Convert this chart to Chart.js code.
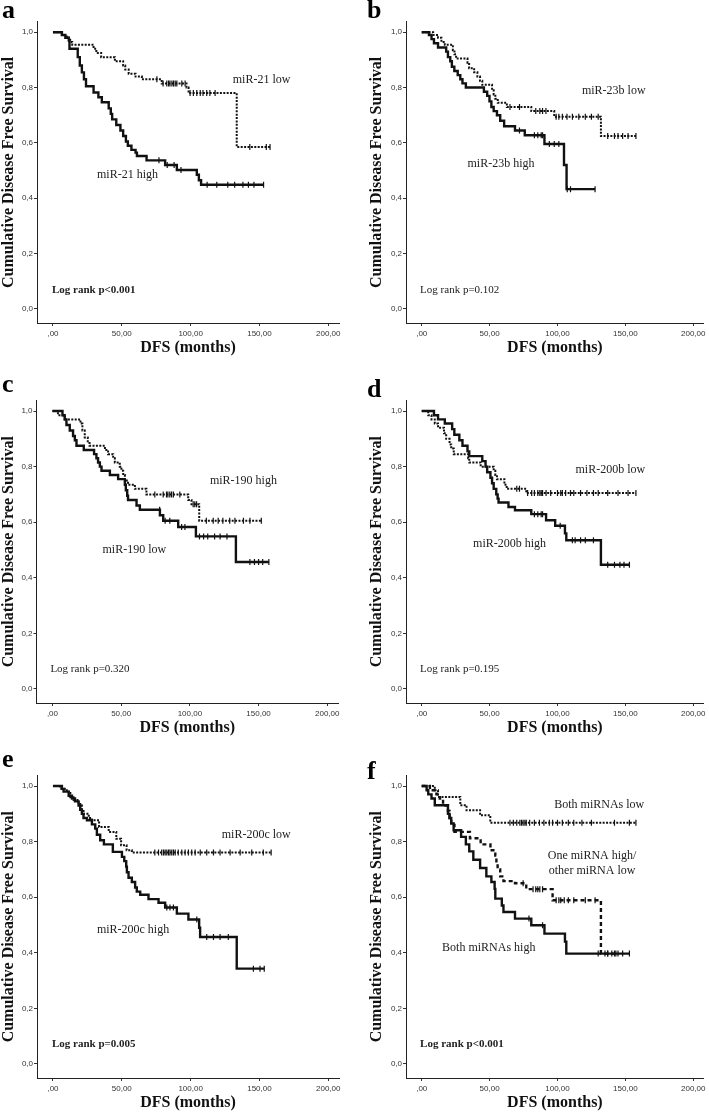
<!DOCTYPE html>
<html>
<head>
<meta charset="utf-8">
<script src="https://cdn.jsdelivr.net/npm/chart.js@4.4.1/dist/chart.umd.min.js"></script>
<style>
  body { margin: 0; background: #fff; }
  #fig { position: relative; width: 709px; height: 1120px; background: #fff; }
  #fig canvas { position: absolute; }
</style>
</head>
<body>
<div id="fig">
  <canvas id="pa" width="354" height="370" style="left:0;top:0"></canvas>
  <canvas id="pb" width="355" height="370" style="left:354px;top:0"></canvas>
  <canvas id="pc" width="354" height="375" style="left:0;top:370px"></canvas>
  <canvas id="pd" width="355" height="375" style="left:354px;top:370px"></canvas>
  <canvas id="pe" width="354" height="375" style="left:0;top:745px"></canvas>
  <canvas id="pf" width="355" height="375" style="left:354px;top:745px"></canvas>
</div>
<script>
// axis ticks
const xTicks = [0, 50, 100, 150, 200];
const xTickLabels = [',00', '50,00', '100,00', '150,00', '200,00'];
const yTicks = [0, 0.2, 0.4, 0.6, 0.8, 1.0];
const yTickLabels = ['0,0', '0,2', '0,4', '0,6', '0,8', '1,0'];

// a: miR-21
const aHighTime = [6.5, 9, 11.5, 12, 18, 19.5, 21, 22.5, 24, 29.5, 33, 35.5, 40.5, 42, 43, 46, 49, 51, 53, 54.4, 57, 60, 61, 68, 81.5, 90, 104.5, 106, 107.6];
const aHighSurv = [0.99, 0.98, 0.97, 0.94, 0.91, 0.88, 0.855, 0.83, 0.805, 0.782, 0.765, 0.747, 0.725, 0.705, 0.685, 0.665, 0.645, 0.625, 0.605, 0.59, 0.575, 0.565, 0.553, 0.537, 0.52, 0.502, 0.485, 0.465, 0.449];
const aHighCens = [77, 83, 88, 93, 112, 119, 127, 132, 138, 142, 146, 153];
const aLowTime = [6.5, 10, 12.5, 14, 29.5, 31.5, 35, 45, 51, 52.5, 55, 60, 64.6, 79, 97, 98.5, 133.5];
const aLowSurv = [0.99, 0.98, 0.965, 0.955, 0.94, 0.925, 0.91, 0.895, 0.88, 0.865, 0.85, 0.84, 0.83, 0.815, 0.80, 0.78, 0.585];
const aLowCens = [75.5, 80, 82.7, 84, 85, 86.4, 87.6, 88.8, 90, 93.6, 96, 99.6, 102, 104.5, 107, 109, 111.7, 114, 117.8, 143, 155, 157.7];

// b: miR-23b
const bHighTime = [5.3, 7.2, 9, 12, 18, 19.3, 21, 22.2, 24, 26.5, 28.4, 30, 32.5, 45.8, 48.2, 49.9, 51.3, 53, 55.4, 57.8, 60.7, 68.7, 75.9, 90.4, 104.8, 106.7];
const bHighSurv = [0.99, 0.975, 0.96, 0.945, 0.93, 0.91, 0.895, 0.875, 0.86, 0.845, 0.83, 0.815, 0.80, 0.785, 0.77, 0.75, 0.73, 0.715, 0.70, 0.68, 0.66, 0.645, 0.628, 0.596, 0.52, 0.433];
const bHighCens = [72, 83, 85.5, 88, 89, 94, 97.6, 101, 107.2, 109.6, 127.7];
const bLowTime = [8.4, 12, 14.5, 17, 22.9, 24.1, 25.3, 33.7, 34.9, 38.6, 41, 42.9, 44.6, 51.8, 53, 54.2, 56, 62.7, 80.7, 97.6, 132];
const bLowSurv = [0.99, 0.98, 0.965, 0.955, 0.935, 0.92, 0.905, 0.89, 0.87, 0.855, 0.84, 0.825, 0.81, 0.79, 0.775, 0.76, 0.745, 0.73, 0.715, 0.695, 0.625];
const bLowCens = [65, 72, 84, 87, 89, 91.5, 99, 101, 103.6, 107, 111, 115.7, 120.5, 125, 130, 137, 142, 144.6, 148, 152, 157.8];

// c: miR-190
const cLowTime = [7.3, 8.9, 10.2, 12.6, 15, 16.3, 17.5, 22.8, 30.3, 32, 33.2, 34.5, 35.7, 41.8, 47.8, 52.7, 53.4, 54.4, 55, 61.2, 63.6, 78.2, 80.6, 91.5, 104.4, 133.5];
const cLowSurv = [0.985, 0.97, 0.95, 0.93, 0.91, 0.895, 0.875, 0.86, 0.845, 0.83, 0.815, 0.80, 0.785, 0.77, 0.755, 0.735, 0.715, 0.695, 0.68, 0.66, 0.645, 0.625, 0.605, 0.583, 0.549, 0.457];
const cLowCens = [78, 82, 85.4, 94, 96.4, 107, 110, 113, 118, 122, 127, 143.7, 147, 150, 153, 157.5];
const cHighTime = [4, 9, 20.4, 21.8, 23.5, 25.7, 27, 38.2, 40.5, 44.2, 45.4, 49, 50.2, 51.5, 52.7, 55, 60, 68.4, 98.8, 101.2, 106.8];
const cHighSurv = [0.985, 0.97, 0.955, 0.93, 0.905, 0.885, 0.875, 0.86, 0.845, 0.83, 0.815, 0.80, 0.785, 0.77, 0.75, 0.735, 0.72, 0.70, 0.68, 0.665, 0.605];
const cHighCens = [74.5, 80.6, 83, 84, 85.4, 86.7, 88, 92.7, 102.4, 103.6, 104.9, 112, 117, 120.6, 124, 129, 132.8, 139, 143.7, 152];

// d: miR-200b
const dHighTime = [9, 12, 17, 22.4, 24, 27.7, 30, 33.7, 35, 44.6, 47, 48.2, 50.6, 51.8, 53, 54.9, 55.9, 56.6, 63.9, 68.7, 80.7, 91.6, 98.3, 105.5, 106.5, 132];
const dHighSurv = [0.985, 0.97, 0.955, 0.935, 0.915, 0.895, 0.875, 0.855, 0.838, 0.82, 0.80, 0.78, 0.76, 0.74, 0.72, 0.70, 0.685, 0.671, 0.655, 0.643, 0.629, 0.607, 0.587, 0.56, 0.535, 0.447];
const dHighCens = [83, 85.5, 88, 89, 102, 111, 113, 117, 120.5, 126.5, 137, 142, 146, 149, 153];
const dLowTime = [4.8, 7.2, 9.6, 12, 16.4, 18, 20.5, 21.7, 23.6, 34.2, 35, 43.4, 53, 54.2, 55.4, 60.9, 62.6, 77];
const dLowSurv = [0.985, 0.97, 0.955, 0.94, 0.92, 0.90, 0.88, 0.865, 0.845, 0.83, 0.815, 0.80, 0.785, 0.77, 0.755, 0.735, 0.72, 0.705];
const dLowCens = [70, 72, 78, 81, 83, 85.5, 87, 88, 89, 91.6, 95, 100, 102.4, 103.6, 106, 109.6, 112, 117, 121.7, 126.5, 130, 137, 144.6, 152, 157.8];

// e: miR-200c
const eHighTime = [6.5, 7.7, 11.4, 13.8, 16, 18.6, 19.8, 21, 22.2, 24.7, 28.3, 30.7, 31.9, 34.3, 37, 43.5, 50.1, 51.8, 53.2, 53.7, 54.9, 57.3, 59.7, 60.9, 63.4, 69.4, 76.7, 81.5, 90, 98.4, 106.2, 106.9, 133.5];
const eHighSurv = [0.99, 0.98, 0.965, 0.955, 0.945, 0.93, 0.915, 0.90, 0.885, 0.877, 0.862, 0.847, 0.825, 0.805, 0.79, 0.763, 0.745, 0.73, 0.71, 0.69, 0.67, 0.655, 0.635, 0.62, 0.609, 0.593, 0.58, 0.563, 0.541, 0.52, 0.49, 0.457, 0.343];
const eHighCens = [82.7, 85, 87.5, 104.5, 111.7, 116.6, 121.4, 127.4, 145.6, 150.4, 153.5];
const eLowTime = [5.3, 10, 11.4, 12.6, 15, 18.6, 19.8, 21, 22.2, 26, 28.3, 33.5, 40.5, 46, 49.5, 53.5, 57.3];
const eLowSurv = [0.99, 0.985, 0.975, 0.96, 0.95, 0.94, 0.93, 0.915, 0.90, 0.885, 0.877, 0.853, 0.835, 0.81, 0.787, 0.769, 0.761];
const eLowCens = [74, 76.7, 79, 80.3, 81.5, 82.7, 84, 85, 86.3, 87.5, 88.8, 91, 93.6, 96, 98.4, 100.8, 103.3, 107, 111.7, 116.6, 121.4, 128.7, 136, 144.4, 152.8, 158.5];

// f: combined
const fHighTime = [3.6, 4.8, 7.2, 9.6, 19.3, 20.5, 21.7, 23.5, 29, 32.5, 35, 38, 43, 47.6, 51.3, 53.7, 54.2, 59, 60.2, 68.7, 80.7, 90.4, 105.5, 106.5];
const fHighSurv = [0.985, 0.97, 0.955, 0.931, 0.90, 0.885, 0.865, 0.841, 0.817, 0.79, 0.765, 0.735, 0.705, 0.675, 0.655, 0.63, 0.595, 0.57, 0.547, 0.523, 0.499, 0.469, 0.44, 0.397];
const fHighCens = [79, 89, 130, 135, 137, 140, 142, 144.6, 148, 153];
const fMixTime = [6, 10.8, 13.3, 15.7, 19.3, 20.5, 21.7, 24.1, 35.5, 43.4, 50.6, 54.2, 55, 55.9, 57.8, 60.2, 68.7, 77, 96.4, 132];
const fMixSurv = [0.985, 0.97, 0.955, 0.93, 0.91, 0.885, 0.86, 0.835, 0.812, 0.79, 0.769, 0.75, 0.72, 0.70, 0.675, 0.658, 0.65, 0.629, 0.589, 0.397];
const fMixCens = [74.7, 82, 84, 85.5, 87, 89, 99, 101, 102.4, 105, 108, 112, 120.5, 127.7, 137, 143];
const fLowTime = [9.6, 12, 28.4, 33, 43, 50.5];
const fLowSurv = [0.985, 0.961, 0.931, 0.913, 0.895, 0.868];
const fLowCens = [65, 67.5, 70, 72.3, 73.5, 74.7, 76, 77, 79.5, 83, 86.7, 90, 94, 96.4, 100, 103.6, 108, 112, 118, 125, 142, 153, 157.8];

const SERIF = '"Liberation Serif", "Times New Roman", serif';
const SANS = '"Liberation Sans", Arial, sans-serif';

function stepPoints(time, surv, cens) {
  const pts = [{ x: 0, y: 1 }];
  time.forEach((t, i) => pts.push({ x: t, y: surv[i] }));
  const end = Math.max(time[time.length - 1], ...cens);
  pts.push({ x: end, y: surv[surv.length - 1] });
  return pts;
}

function survAt(time, surv, t) {
  let s = 1;
  time.forEach((ti, i) => { if (ti <= t) s = surv[i]; });
  return s;
}

const styles = {
  solid: { borderWidth: 2.4, borderDash: [] },
  dotted: { borderWidth: 2, borderDash: [2, 1.4] },
  dashed: { borderWidth: 2.4, borderDash: [4, 3] }
};

function curveSets(time, surv, cens, style) {
  return [
    Object.assign({
      data: stepPoints(time, surv, cens),
      stepped: true,
      borderColor: '#111',
      pointRadius: 0,
      borderCapStyle: 'butt',
      fill: false
    }, styles[style]),
    {
      data: cens.map(t => ({ x: t, y: survAt(time, surv, t) })),
      showLine: false,
      pointStyle: 'line',
      rotation: 90,
      pointRadius: 3,
      pointBorderWidth: 1.2,
      pointBorderColor: '#111'
    }
  ];
}

const notes = {
  id: 'notes',
  afterDraw(chart, args, opts) {
    const { ctx } = chart;
    const { x, y } = chart.scales;
    ctx.save();
    opts.items.forEach(n => {
      ctx.font = (n.bold ? 'bold ' : '') + n.size + 'px ' + SERIF;
      ctx.fillStyle = '#222';
      ctx.textAlign = n.align || 'left';
      ctx.textBaseline = 'middle';
      ctx.fillText(n.text, x.getPixelForValue(n.x), y.getPixelForValue(n.y));
    });
    ctx.font = 'bold 26px ' + SERIF;
    ctx.fillStyle = '#000';
    ctx.textAlign = 'left';
    ctx.textBaseline = 'alphabetic';
    ctx.fillText(opts.letter, opts.lx, opts.ly);
    ctx.restore();
  }
};

function panel(id, datasets, items, g) {
  new Chart(document.getElementById(id), {
    type: 'line',
    data: { datasets },
    options: {
      responsive: false,
      animation: false,
      events: [],
      layout: { padding: { left: g.padLeft, right: g.padRight, top: g.padTop, bottom: g.padBottom } },
      plugins: {
        legend: { display: false },
        tooltip: { enabled: false },
        notes: { items, letter: g.letter, lx: g.lx, ly: g.ly }
      },
      scales: {
        x: {
          type: 'linear',
          min: -11.6,
          max: 207.8,
          afterBuildTicks: s => { s.ticks = xTicks.map(v => ({ value: v })); },
          afterFit: s => { s.height = 33; s.paddingLeft = 0; s.paddingRight = 0; },
          ticks: {
            autoSkip: false,
            maxRotation: 0,
            padding: 3,
            color: '#333',
            font: { family: SANS, size: 8 },
            callback: (v, i) => xTickLabels[i]
          },
          grid: { drawOnChartArea: false, drawTicks: true, tickLength: 3, color: '#333' },
          border: { color: '#222', width: 1 },
          title: {
            display: true,
            text: 'DFS (months)',
            color: '#111',
            padding: 0,
            font: { family: SERIF, size: 16, weight: 'bold', lineHeight: 1 }
          }
        },
        y: {
          type: 'linear',
          min: -0.0506,
          max: 1.038,
          afterBuildTicks: s => { s.ticks = yTicks.map(v => ({ value: v })); },
          afterFit: s => { s.width = g.yWidth; s.paddingTop = 0; s.paddingBottom = 0; },
          ticks: {
            padding: 1,
            color: '#333',
            font: { family: SANS, size: 8 },
            callback: (v, i) => yTickLabels[i]
          },
          grid: { drawOnChartArea: false, drawTicks: true, tickLength: 3, color: '#333' },
          border: { color: '#222', width: 1 },
          title: {
            display: true,
            text: 'Cumulative Disease Free Survival',
            color: '#111',
            padding: { top: 0.5 },
            font: { family: SERIF, size: 16, weight: 'bold', lineHeight: 1 }
          }
        }
      }
    },
    plugins: [notes]
  });
}

const leftCol = { padLeft: 0, yWidth: 37, padRight: 15, lx: 2 };
const rightCol = { padLeft: 14, yWidth: 38, padRight: 0.5, lx: 13 };
const row1 = { padTop: 21.7, padBottom: 14 };
const row23 = { padTop: 30.5, padBottom: 9 };

panel('pa',
  [...curveSets(aHighTime, aHighSurv, aHighCens, 'solid'), ...curveSets(aLowTime, aLowSurv, aLowCens, 'dotted')],
  [
    { text: 'miR-21 low', x: 130.6, y: 0.828, size: 12 },
    { text: 'miR-21 high', x: 32, y: 0.484, size: 12 },
    { text: 'Log rank p<0.001', x: -0.7, y: 0.069, size: 11, bold: true }
  ],
  Object.assign({ letter: 'a', ly: 18 }, leftCol, row1));

panel('pb',
  [...curveSets(bHighTime, bHighSurv, bHighCens, 'solid'), ...curveSets(bLowTime, bLowSurv, bLowCens, 'dotted')],
  [
    { text: 'miR-23b low', x: 118, y: 0.789, size: 12 },
    { text: 'miR-23b high', x: 33.7, y: 0.524, size: 12 },
    { text: 'Log rank p=0.102', x: -1.2, y: 0.069, size: 11 }
  ],
  Object.assign({ letter: 'b', ly: 18 }, rightCol, row1));

panel('pc',
  [...curveSets(cLowTime, cLowSurv, cLowCens, 'solid'), ...curveSets(cHighTime, cHighSurv, cHighCens, 'dotted')],
  [
    { text: 'miR-190 high', x: 114.6, y: 0.748, size: 12 },
    { text: 'miR-190 low', x: 36.4, y: 0.502, size: 12 },
    { text: 'Log rank p=0.320', x: -1.5, y: 0.07, size: 11 }
  ],
  Object.assign({ letter: 'c', ly: 22 }, leftCol, row23, { yWidth: 36.5, padRight: 16 }));

panel('pd',
  [...curveSets(dHighTime, dHighSurv, dHighCens, 'solid'), ...curveSets(dLowTime, dLowSurv, dLowCens, 'dotted')],
  [
    { text: 'miR-200b low', x: 113.3, y: 0.787, size: 12 },
    { text: 'miR-200b high', x: 37.8, y: 0.523, size: 12 },
    { text: 'Log rank p=0.195', x: -1.2, y: 0.07, size: 11 }
  ],
  Object.assign({ letter: 'd', ly: 27 }, rightCol, row23));

panel('pe',
  [...curveSets(eHighTime, eHighSurv, eHighCens, 'solid'), ...curveSets(eLowTime, eLowSurv, eLowCens, 'dotted')],
  [
    { text: 'miR-200c low', x: 122.6, y: 0.826, size: 12 },
    { text: 'miR-200c high', x: 31.9, y: 0.483, size: 12 },
    { text: 'Log rank p=0.005', x: -0.7, y: 0.07, size: 11, bold: true }
  ],
  Object.assign({ letter: 'e', ly: 22 }, leftCol, row23));

panel('pf',
  [...curveSets(fHighTime, fHighSurv, fHighCens, 'solid'), ...curveSets(fMixTime, fMixSurv, fMixCens, 'dashed'), ...curveSets(fLowTime, fLowSurv, fLowCens, 'dotted')],
  [
    { text: 'Both miRNAs low', x: 97.6, y: 0.934, size: 12 },
    { text: 'One miRNA high/', x: 125.5, y: 0.748, size: 12, align: 'center' },
    { text: 'other miRNA low', x: 125.5, y: 0.694, size: 12, align: 'center' },
    { text: 'Both miRNAs high', x: 15, y: 0.418, size: 12 },
    { text: 'Log rank p<0.001', x: -1.2, y: 0.07, size: 11, bold: true }
  ],
  Object.assign({ letter: 'f', ly: 34 }, rightCol, row23));
</script>
</body>
</html>
